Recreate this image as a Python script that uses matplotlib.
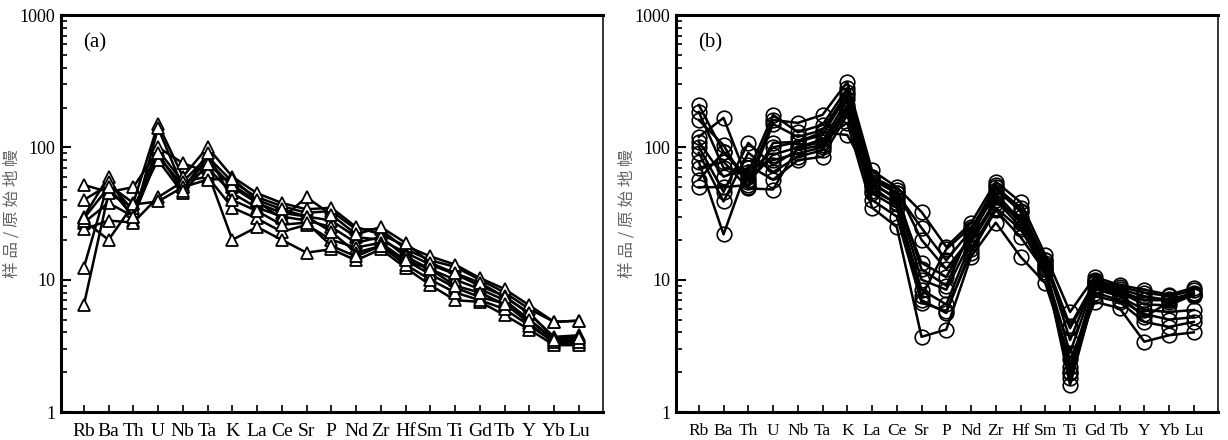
import numpy as np
import matplotlib
matplotlib.use("Agg")
import matplotlib.pyplot as plt
from matplotlib.ticker import LogLocator, NullFormatter, FixedLocator

plt.rcParams['font.family'] = ['Liberation Serif', 'Noto Sans CJK SC', 'DejaVu Sans']

elements = ["Rb", "Ba", "Th", "U", "Nb", "Ta", "K", "La", "Ce", "Sr", "P",
            "Nd", "Zr", "Hf", "Sm", "Ti", "Gd", "Tb", "Y", "Yb", "Lu"]

# (a) primitive-mantle normalised, triangles
a1 = [52, 46, 50, 95, 55, 85, 55, 42, 36, 32, 33, 24, 24, 17, 14, 12.5, 10, 8.0, 6.0, 4.8, 4.9]
a2 = [40, 52, 38, 150, 60, 100, 60, 45, 38, 34, 35, 25, 22, 18, 15, 13, 10.3, 8.5, 6.4, 4.8, 4.9]
a3 = [30, 60, 28, 140, 50, 80, 50, 38, 32, 30, 28, 21, 20, 16, 13, 11, 9.0, 7.5, 5.5, 3.7, 3.8]
a4 = [27, 38, 30, 85, 52, 70, 45, 35, 30, 28, 25, 19, 21, 15, 12, 10, 8.5, 7.0, 5.0, 3.5, 3.5]
a5 = [24, 28, 27, 42, 55, 60, 35, 29, 23, 26, 20, 17.5, 19, 14, 11, 8.7, 7.4, 6.6, 4.7, 3.3, 3.3]
a6 = [12.3, 55, 33, 100, 76, 65, 20, 25, 20, 16, 17, 14, 17, 12.3, 9.1, 7.0, 6.8, 5.4, 4.2, 3.2, 3.2]
a7 = [6.4, 45, 35, 80, 45, 75, 52, 39, 29, 42, 31, 22, 25, 19, 13.4, 11.2, 9.5, 7.4, 5.6, 3.6, 3.7]
a8 = [28, 20, 37, 39, 50, 57, 58, 40, 34, 30, 23, 16, 18, 13, 10, 8.0, 7.0, 6.0, 4.5, 3.4, 3.4]
a9 = [29, 50, 30, 90, 47, 90, 40, 33, 26, 27, 18, 15, 18, 14, 12, 9.0, 8.0, 6.5, 5.0, 3.5, 3.6]
series_a = [a1, a2, a3, a4, a5, a6, a7, a8, a9]

# (b) primitive-mantle normalised, circles
b1 = [209, 92, 57, 161, 153, 176, 312, 67, 50, 32.5, 17.7, 26.8, 55, 38.6, 15.4, 5.7, 10.5, 9.1, 8.4, 7.7, 8.7]
b2 = [185, 70, 65, 176, 130, 148, 280, 60, 45, 24.6, 14, 23.7, 52, 32.5, 13.4, 4.3, 9.4, 7.9, 7.0, 7.2, 7.7]
b3 = [161, 104, 50, 108, 110, 124, 250, 55, 40, 13.4, 10.5, 22, 45, 28, 12, 2.8, 9.8, 8.5, 7.5, 7.0, 8.0]
b4 = [120, 167, 55, 88, 100, 110, 230, 52, 42, 10, 8.4, 20, 40, 25, 11, 2.2, 9.0, 8.0, 6.5, 6.4, 7.7]
b5 = [101, 46, 108, 73, 96, 104, 209, 50, 37, 8.4, 6.5, 19, 38, 30, 13, 1.97, 8.5, 7.5, 5.9, 5.7, 5.9]
b6 = [91, 39, 91, 65, 85, 95, 190, 45, 35, 7.0, 5.6, 17, 35, 24, 12, 1.6, 8.0, 7.0, 5.5, 5.0, 5.2]
b7 = [78, 22, 73, 57, 80, 85, 176, 40, 30, 6.7, 5.8, 16, 33.5, 21, 11.5, 1.8, 7.5, 6.8, 4.8, 4.4, 4.8]
b8 = [70, 78, 49, 48, 100, 115, 153, 35, 25, 3.7, 4.2, 14.9, 27, 14.9, 9.4, 2.5, 6.8, 6.1, 3.4, 3.8, 4.0]
b9 = [57, 92, 60, 100, 110, 130, 124, 57, 45, 12, 9.0, 24, 50, 35, 14, 3.5, 10, 8.8, 8.0, 7.5, 8.3]
b10 = [50, 50, 52, 150, 120, 135, 260, 60, 48, 20, 12, 21, 48, 33, 14, 4.5, 9.6, 8.2, 7.0, 7.0, 7.5]
b11 = [110, 60, 70, 80, 90, 100, 200, 47, 38, 7.5, 17, 25, 42, 27, 12.5, 2.0, 9.0, 7.6, 5.2, 6.8, 7.8]
series_b = [b1, b2, b3, b4, b5, b6, b7, b8, b9, b10, b11]

ylabel = "样 品 / 原 始 地 幔"

fig = plt.figure(figsize=(12.28, 4.40), dpi=100)
ax_a = fig.add_axes([0.0497, 0.0636, 0.4414, 0.9023])
ax_b = fig.add_axes([0.5505, 0.0636, 0.4414, 0.9023])

x = np.arange(len(elements))


def style_axis(ax, tag, xfont):
    ax.set_yscale("log")
    ax.set_ylim(1, 1000)
    ax.set_xlim(-0.92, len(elements) - 0.02)
    ax.set_xticks(x)
    ax.set_xticklabels(elements, fontsize=xfont)
    ax.yaxis.set_major_locator(FixedLocator([1, 10, 100, 1000]))
    ax.set_yticklabels(["1", "10", "100", "1000"], fontsize=13)
    ax.yaxis.set_minor_locator(LogLocator(base=10, subs=np.arange(2, 10)))
    ax.yaxis.set_minor_formatter(NullFormatter())
    ax.tick_params(axis="x", direction="in", length=5, width=1.2, pad=8, top=False)
    ax.tick_params(axis="y", which="major", direction="in", length=7, width=1.5, pad=4, right=False)
    ax.tick_params(axis="y", which="minor", direction="in", length=4, width=1.2, right=False)
    for side in ("left", "bottom", "top"):
        ax.spines[side].set_linewidth(2.2)
    ax.spines["right"].set_linewidth(1.4)
    ax.spines["right"].set_color("#333333")
    ax.set_ylabel(ylabel, family=["Noto Sans CJK SC"], fontsize=12, color="#666666")
    ax.yaxis.set_label_coords(-0.075, 0.5)
    ax.text(0.04, 0.955, tag, transform=ax.transAxes, fontsize=15, va="top", ha="left")


for s in series_a:
    ax_a.plot(x, s, color="black", lw=1.8, marker="^", ms=8, mfc="white", mec="black", mew=1.3)
for s in series_b:
    ax_b.plot(x, s, color="black", lw=1.8, marker="o", ms=10.5, mfc="none", mec="black", mew=1.2)

style_axis(ax_a, "(a)", 14)
style_axis(ax_b, "(b)", 12.5)

fig.savefig("out.png", dpi=100)
